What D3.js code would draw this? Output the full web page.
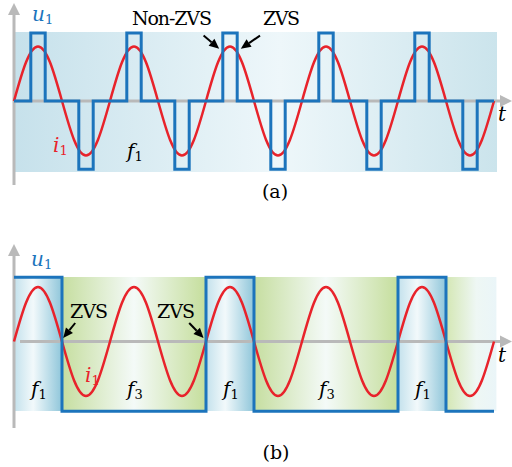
<!DOCTYPE html>
<html>
<head>
<meta charset="utf-8">
<script src="https://cdn.jsdelivr.net/npm/d3@7"></script>
<style>
  body { margin: 0; background: #fff; }
  svg text { font-family: "DejaVu Serif", "Liberation Serif", "Noto Serif", serif; }
</style>
</head>
<body>
<div id="chart"></div>
<script>
var svgWidth = 512;
var svgHeight = 467;

// i1 sampled every 1/8 period (time unit = quarter period), same in both panels
var iTime = [0,0.5,1,1.5,2,2.5,3,3.5,4,4.5,5,5.5,6,6.5,7,7.5,8,8.5,9,9.5,10,
             10.5,11,11.5,12,12.5,13,13.5,14,14.5,15,15.5,16,16.5,17,17.5,18,18.5,19,19.5,20];
var iValue = [0,0.71,1,0.71,0,-0.71,-1,-0.71,0,0.71,1,0.71,0,-0.71,-1,-0.71,0,0.71,1,0.71,0,
              -0.71,-1,-0.71,0,0.71,1,0.71,0,-0.71,-1,-0.71,0,0.71,1,0.71,0,-0.71,-1,-0.71,0];

// u1 panel (a): narrow pulses at f1
var uaTime  = [0, 0.7, 1.3, 2.7, 3.3, 4.7, 5.3, 6.7, 7.3, 8.7, 9.3, 10.7, 11.3, 12.7, 13.3, 14.7, 15.3, 16.7, 17.3, 18.7, 19.3, 20];
var uaValue = [0, 1.25, 0, -1.25, 0, 1.25, 0, -1.25, 0, 1.25, 0, -1.25, 0, 1.25, 0, -1.25, 0, 1.25, 0, -1.25, 0, 0];

// u1 panel (b): square wave switching between f1 and f3
var ubTime  = [0, 2, 8, 10, 16, 18, 20];
var ubValue = [1.18, -1.28, 1.18, -1.28, 1.18, -1.28, -1.28];

// background segments panel (b)
var segStart = [0, 2, 8, 10, 16, 18];
var segEnd   = [2, 8, 10, 16, 18, 20.1];
var segType  = ["f1", "f3", "f1", "f3", "f1", "tail"];
var segLabel = ["1", "3", "1", "3", "1", ""];

var svg = d3.select("#chart").append("svg")
  .attr("width", svgWidth)
  .attr("height", svgHeight);

var defs = svg.append("defs");

function grad(id, stops) {
  var g = defs.append("linearGradient").attr("id", id)
    .attr("x1", "0%").attr("x2", "100%").attr("y1", "0%").attr("y2", "0%");
  stops.forEach(function(s) {
    g.append("stop").attr("offset", s[0]).attr("stop-color", s[1]);
  });
}
grad("bgA", [["0%", "#c6e1eb"], ["55%", "#eef7fa"], ["100%", "#cbe4ec"]]);
grad("bgF1", [["0%", "#c3e1ec"], ["40%", "#f2f9fb"], ["100%", "#8fc6da"]]);
grad("bgF3", [["0%", "#c6dea0"], ["50%", "#f4faf8"], ["100%", "#c5de9c"]]);
grad("bgTail", [["0%", "#d4e7b4"], ["60%", "#eef7f4"], ["100%", "#eaf5f8"]]);

var x = d3.scaleLinear().domain([0, 20]).range([14, 494]);
var yA = d3.scaleLinear().domain([-1, 1]).range([155.5, 46.5]);
var yB = d3.scaleLinear().domain([-1, 1]).range([396, 287]);

var gray = "#b9b9b9", red = "#e8232b", blue = "#1c74bc";

function axes(y, top, bottom, hStart) {
  var g = svg.append("g");
  g.append("line").attr("x1", 14).attr("x2", 14).attr("y1", bottom).attr("y2", top + 10)
    .attr("stroke", gray).attr("stroke-width", 3);
  g.append("path").attr("d", "M8," + (top + 12) + "L14," + top + "L20," + (top + 12) + "Z").attr("fill", gray);
  g.append("line").attr("x1", hStart).attr("x2", 502).attr("y1", y(0)).attr("y2", y(0))
    .attr("stroke", gray).attr("stroke-width", 3);
  g.append("path").attr("d", "M500," + (y(0) - 6) + "L512," + y(0) + "L500," + (y(0) + 6) + "Z").attr("fill", gray);
}

function label(g, px, py, main, sub, color, italic, size) {
  var t = g.append("text").attr("x", px).attr("y", py).attr("fill", color)
    .attr("font-size", size || 20);
  t.append("tspan").attr("font-style", italic ? "italic" : "normal").text(main);
  if (sub) t.append("tspan").attr("font-size", 13).attr("dy", 3).text(sub);
  return t;
}

function arrow(x1, y1, x2, y2) {
  var a = Math.atan2(y2 - y1, x2 - x1), L = 10, W = 4.5;
  var bx = x2 - L * Math.cos(a), by = y2 - L * Math.sin(a);
  svg.append("line").attr("x1", x1).attr("y1", y1).attr("x2", bx).attr("y2", by)
    .attr("stroke", "#000").attr("stroke-width", 2);
  svg.append("path")
    .attr("d", "M" + x2 + "," + y2 +
      "L" + (bx + W * Math.sin(a)) + "," + (by - W * Math.cos(a)) +
      "L" + (bx - W * Math.sin(a)) + "," + (by + W * Math.cos(a)) + "Z")
    .attr("fill", "#000");
}

var iLineA = d3.line().x(function(d, k) { return x(iTime[k]); }).y(function(d) { return yA(d); }).curve(d3.curveNatural);
var iLineB = d3.line().x(function(d, k) { return x(iTime[k]); }).y(function(d) { return yB(d); }).curve(d3.curveNatural);
var uLineA = d3.line().x(function(d, k) { return x(uaTime[k]); }).y(function(d) { return yA(d); }).curve(d3.curveStepAfter);
var uLineB = d3.line().x(function(d, k) { return x(ubTime[k]); }).y(function(d) { return yB(d); }).curve(d3.curveStepAfter);

// ---------- panel (a) ----------
svg.append("rect").attr("x", 14).attr("y", 32).attr("width", 483).attr("height", 140)
  .attr("fill", "url(#bgA)");
axes(yA, 3, 185, 14);

svg.append("path").attr("d", iLineA(iValue))
  .attr("fill", "none").attr("stroke", red).attr("stroke-width", 2.5);
svg.append("path").attr("d", uLineA(uaValue))
  .attr("fill", "none").attr("stroke", blue).attr("stroke-width", 3);

label(svg, 32, 21, "u", "1", blue, true);
label(svg, 53, 152, "i", "1", red, true);
label(svg, 127, 158, "f", "1", "#000", true);
svg.append("text").attr("x", 498).attr("y", 121).attr("font-style", "italic").attr("font-size", 20).text("t");
svg.append("text").attr("x", 132).attr("y", 25).attr("font-size", 19).attr("textLength", 80).text("Non-ZVS");
svg.append("text").attr("x", 263).attr("y", 25).attr("font-size", 19).attr("textLength", 37).text("ZVS");
arrow(x(7.9), yA(1.2), x(8.55), yA(0.96));
arrow(x(10.25), yA(1.2), x(9.45), yA(0.96));
svg.append("text").attr("x", 275).attr("y", 198).attr("text-anchor", "middle").attr("font-size", 19).text("(a)");

// ---------- panel (b) ----------
svg.selectAll(".seg").data(segStart).enter().append("rect")
  .attr("x", function(d) { return x(d); })
  .attr("y", 277)
  .attr("width", function(d, k) { return x(segEnd[k]) - x(d); })
  .attr("height", 134)
  .attr("fill", function(d, k) {
    return segType[k] == "f1" ? "url(#bgF1)" : segType[k] == "f3" ? "url(#bgF3)" : "url(#bgTail)";
  });
axes(yB, 244, 428, 20);

svg.append("path").attr("d", iLineB(iValue))
  .attr("fill", "none").attr("stroke", red).attr("stroke-width", 2.5);
svg.append("path").attr("d", uLineB(ubValue))
  .attr("fill", "none").attr("stroke", blue).attr("stroke-width", 3);

segStart.forEach(function(d, k) {
  if (segLabel[k]) label(svg, (x(d) + x(segEnd[k])) / 2 - 7, 396, "f", segLabel[k], "#000", true);
});
label(svg, 31, 266, "u", "1", blue, true);
label(svg, 85, 382, "i", "1", red, true);
svg.append("text").attr("x", 498).attr("y", 362).attr("font-style", "italic").attr("font-size", 20).text("t");
svg.append("text").attr("x", 70).attr("y", 318).attr("font-size", 19).attr("textLength", 38).text("ZVS");
svg.append("text").attr("x", 157).attr("y", 318).attr("font-size", 19).attr("textLength", 38).text("ZVS");
arrow(x(2.55), 323, x(2.05), 338);
arrow(x(7.3), 323, x(7.9), 338);
svg.append("text").attr("x", 276).attr("y", 459).attr("text-anchor", "middle").attr("font-size", 19).text("(b)");
</script>
</body>
</html>
